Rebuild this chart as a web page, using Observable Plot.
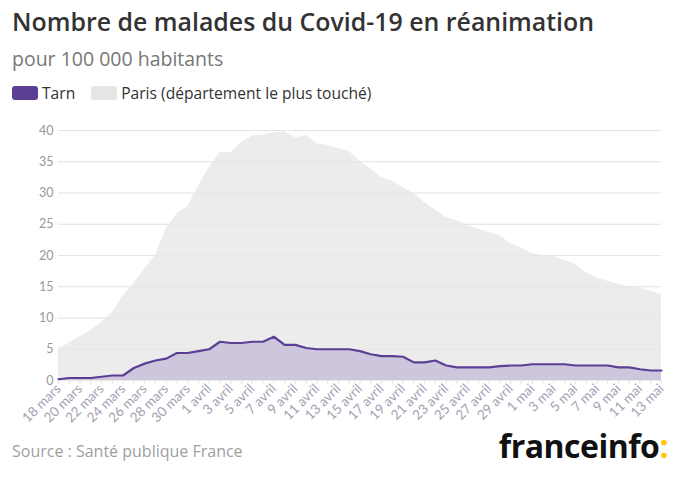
<!DOCTYPE html>
<html><head><meta charset="utf-8">
<script src="https://cdn.jsdelivr.net/npm/d3@7"></script>
<script src="https://cdn.jsdelivr.net/npm/@observablehq/plot@0.6"></script>
<style>
body{margin:0;background:#fff;font-family:"Open Sans",Lato,sans-serif;}
#wrap{position:relative;width:680px;height:480px;overflow:hidden;background:#fff;}
#title{position:absolute;left:12px;top:4px;margin:0;font-size:24.9px;font-weight:600;color:#333;white-space:nowrap;}
#sub{position:absolute;left:12px;top:45px;font-size:19.5px;color:#777;white-space:nowrap;}
#legend{position:absolute;left:12px;top:82px;font-size:15.6px;color:#333;display:flex;align-items:center;white-space:nowrap;}
.sw{display:inline-block;width:26px;height:14px;border-radius:3px;margin-right:4px;}
#chart{position:absolute;left:0;top:112px;}
#source{position:absolute;left:12px;top:440px;font-size:16px;color:#a0a0a0;white-space:nowrap;}
#logo{position:absolute;right:12px;top:428px;font-size:32px;font-weight:700;color:#111;letter-spacing:-0.5px;white-space:nowrap;line-height:1.1;}
#logo span{color:#ffc700;}
</style></head>
<body><div id="wrap">
<div id="title">Nombre de malades du Covid-19 en réanimation</div>
<div id="sub">pour 100 000 habitants</div>
<div id="legend"><span class="sw" style="background:#5b3f94"></span><span style="margin-right:16px">Tarn</span><span class="sw" style="background:#e6e6e6"></span><span>Paris (département le plus touché)</span></div>
<div id="chart"></div>
<div id="source">Source : Santé publique France</div>
<div id="logo">franceinfo<span>:</span></div>
</div>
<script>
const startDate = "2020-03-18";
const endDate = "2020-05-13";
const paris = [5.1,6.0,7.0,8.0,9.3,10.9,13.5,15.5,17.8,20.0,24.3,26.7,27.8,31.1,34.1,36.5,
  36.5,38.1,39.1,39.3,39.6,39.8,38.8,39.2,37.9,37.6,37.1,36.7,35.0,33.9,32.5,31.9,
  30.9,29.9,28.5,27.3,26.1,25.6,24.8,24.2,23.7,23.2,21.9,21.2,20.3,20.0,19.9,19.2,
  18.6,17.3,16.4,15.9,15.4,15.0,14.8,14.3,13.8];
const tarn = [0.2,0.4,0.4,0.4,0.6,0.8,0.8,2.0,2.7,3.2,3.5,4.4,4.4,4.7,5.0,6.2,
  6.0,6.0,6.2,6.2,7.0,5.7,5.7,5.2,5.0,5.0,5.0,5.0,4.7,4.2,3.9,3.9,
  3.8,2.9,2.9,3.2,2.4,2.1,2.1,2.1,2.1,2.3,2.4,2.4,2.6,2.6,2.6,2.6,
  2.4,2.4,2.4,2.4,2.1,2.1,1.8,1.6,1.6];
const tickLabels = ["18 mars","20 mars","22 mars","24 mars","26 mars","28 mars","30 mars",
  "1 avril","3 avril","5 avril","7 avril","9 avril","11 avril","13 avril","15 avril","17 avril",
  "19 avril","21 avril","23 avril","25 avril","27 avril","29 avril",
  "1 mai","3 mai","5 mai","7 mai","9 mai","11 mai","13 mai"];
const yTicks = [0,5,10,15,20,25,30,35,40];

const d0 = new Date(startDate + "T00:00Z");
const d1 = new Date(endDate + "T00:00Z");
const days = d3.utcDay.range(d0, d3.utcDay.offset(d1, 1));
const data = days.map((d, i) => ({date: d, paris: paris[i], tarn: tarn[i]}));
const labelDates = days.filter((d, i) => i % 2 === 0);
const labelMap = new Map(labelDates.map((d, i) => [+d, tickLabels[i]]));

const chart = Plot.plot({
  width: 680, height: 330,
  marginTop: 18, marginBottom: 62, marginLeft: 58, marginRight: 19,
  style: {fontFamily: "Lato, 'Open Sans', sans-serif", background: "transparent"},
  x: {type: "utc", domain: [d0, d1]},
  y: {domain: [0, 40]},
  marks: [
    Plot.ruleY(yTicks, {stroke: "#e9e9e9", x1: d0, x2: d1}),
    Plot.areaY(data, {x: "date", y: "paris", fill: "#ececec"}),
    Plot.ruleY(yTicks.slice(1), {stroke: "#d6d6d6", strokeOpacity: 0.25, x1: d0, x2: d1}),
    Plot.areaY(data, {x: "date", y: "tarn", fill: "#cec6dc"}),
    Plot.lineY(data, {x: "date", y: "tarn", stroke: "#5b3f94", strokeWidth: 2.2}),
    Plot.axisY({ticks: yTicks, tickSize: 0, tickPadding: 5, fontSize: 12.5, color: "#999", label: null}),
    Plot.axisX({ticks: days, tickSize: 4, stroke: "#e2e2e2", tickFormat: () => "", label: null}),
    Plot.axisX({ticks: labelDates, tickSize: 0, tickPadding: 6, tickRotate: -45, fontSize: 13.5,
      color: "#a49fb3", tickFormat: d => labelMap.get(+d), label: null})
  ]
});
document.getElementById("chart").appendChild(chart);
</script>
</body></html>
